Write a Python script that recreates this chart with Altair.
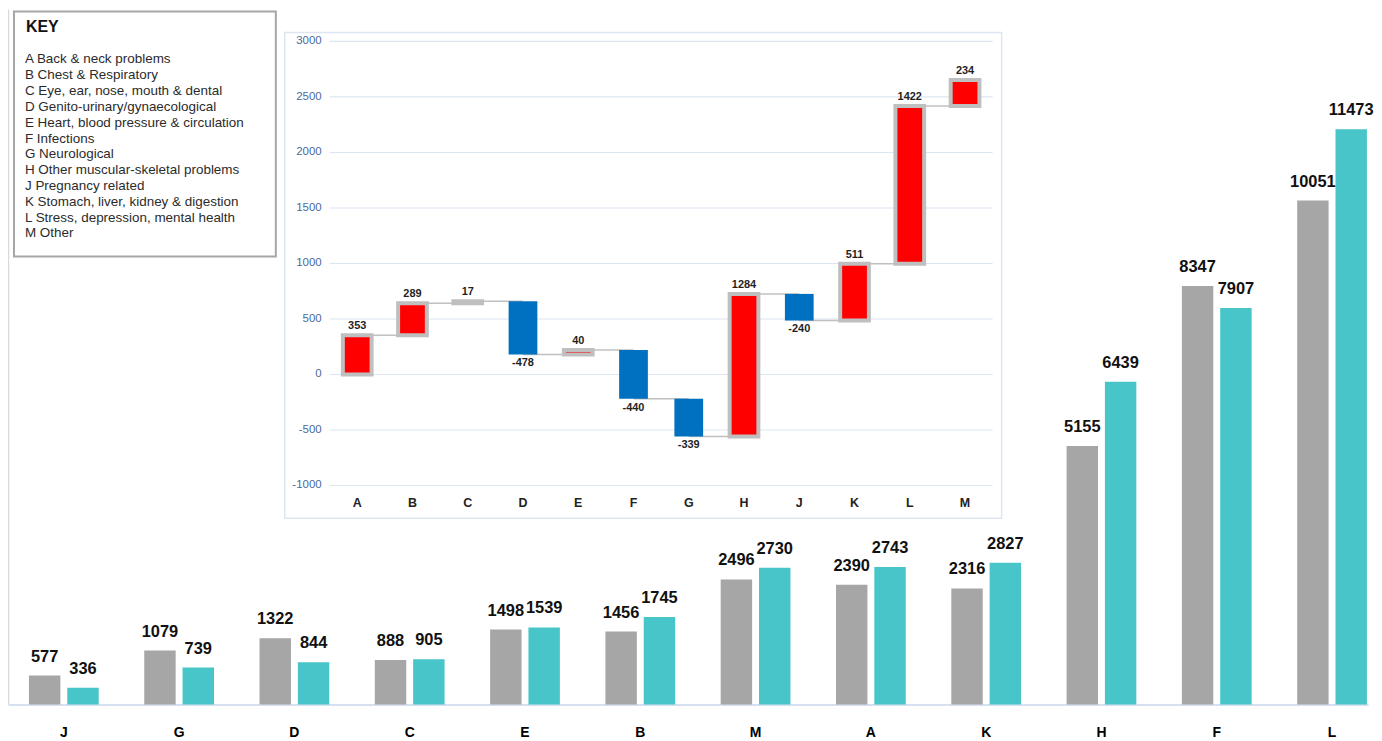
import altair as alt
import pandas as pd

# ---------------- data ----------------
bg_cats = ["J", "G", "D", "C", "E", "B", "M", "A", "K", "H", "F", "L"]
grey_vals = [577, 1079, 1322, 888, 1498, 1456, 2496, 2390, 2316, 5155, 8347, 10051]
teal_vals = [336, 739, 844, 905, 1539, 1745, 2730, 2743, 2827, 6439, 7907, 11473]
series_names = ["Earlier", "Later"]
series_colors = ["#A6A6A6", "#47C5C8"]

wf_cats = ["A", "B", "C", "D", "E", "F", "G", "H", "J", "K", "L", "M"]
wf_changes = [353, 289, 17, -478, 40, -440, -339, 1284, -240, 511, 1422, 234]
inset_ticks = [-1000, -500, 0, 500, 1000, 1500, 2000, 2500, 3000]

key_title = "KEY"
key_lines = [
    "A Back & neck problems",
    "B Chest & Respiratory",
    "C Eye, ear, nose, mouth & dental",
    "D Genito-urinary/gynaecological",
    "E Heart, blood pressure & circulation",
    "F Infections",
    "G Neurological",
    "H Other muscular-skeletal problems",
    "J Pregnancy related",
    "K Stomach, liver, kidney & digestion",
    "L Stress, depression, mental health",
    "M Other",
]

FONT = "Liberation Sans"

# ---------------- tables ----------------
bg_rows = []
for c, g, t in zip(bg_cats, grey_vals, teal_vals):
    bg_rows.append({"cat": c, "series": series_names[0], "value": g, "lab": str(g)})
    bg_rows.append({"cat": c, "series": series_names[1], "value": t, "lab": str(t)})
bg_df = pd.DataFrame(bg_rows)

wf_rows = []
cum = 0
for i, (c, d) in enumerate(zip(wf_cats, wf_changes)):
    start = cum
    end = cum + d
    cum = end
    wf_rows.append({
        "cat": c, "start": start, "end": end, "change": d, "lab": str(d),
        "next": wf_cats[i + 1] if i + 1 < len(wf_cats) else None,
    })
wf_df = pd.DataFrame(wf_rows)
conn_df = wf_df[wf_df["next"].notna()]
tick_df = pd.DataFrame({"tick": inset_ticks, "tlab": [str(t) for t in inset_ticks]})
one = pd.DataFrame({"a": [0]})

# ---------------- background grouped bars ----------------
x_bg = alt.X(
    "cat:N", sort=bg_cats,
    scale=alt.Scale(domain=bg_cats, paddingInner=0.395, paddingOuter=0.0956,
                    align=0.95, round=False),
    axis=alt.Axis(title=None, labelAngle=0, labelFont=FONT, labelFontSize=14,
                  labelFontWeight="bold", labelColor="#000000", ticks=False,
                  domainColor="#D6E0F0", domainWidth=2, labelPadding=21, grid=False),
)
xo_bg = alt.XOffset("series:N", sort=series_names,
                    scale=alt.Scale(domain=series_names, paddingInner=0.18, paddingOuter=0))
y_bg = alt.Y("value:Q", scale=alt.Scale(domain=[0, 13860], nice=False, zero=True), axis=None)
color_bg = alt.Color("series:N", scale=alt.Scale(domain=series_names, range=series_colors),
                     legend=None)

bg_bars = alt.Chart(bg_df).mark_bar().encode(x=x_bg, xOffset=xo_bg, y=y_bg, color=color_bg)
bg_text = alt.Chart(bg_df).mark_text(
    baseline="middle", dy=-19, font=FONT, fontSize=16.5, fontWeight="bold", color="#111111"
).encode(x=x_bg, xOffset=xo_bg, y=y_bg, text="lab:N")
left_rule = alt.Chart(one).mark_rule(color="#D9D9D9", strokeWidth=1.5).encode(
    x=alt.value(0.5), y=alt.value(0), y2=alt.value(698))
bg_layer = alt.layer(bg_bars, bg_text, left_rule)

# ---------------- key box ----------------
key_box = alt.Chart(one).mark_rect(fill="white", stroke="#A6A6A6", strokeWidth=2).encode(
    x=alt.value(6), x2=alt.value(269), y=alt.value(2), y2=alt.value(248))
key_t = alt.Chart(pd.DataFrame({"t": [key_title]})).mark_text(
    align="left", baseline="middle", font=FONT, fontSize=16, fontWeight="bold", color="#111111"
).encode(x=alt.value(18), y=alt.value(17), text="t:N")
key_body = alt.Chart(pd.DataFrame({"t": ["\n".join(key_lines)]})).mark_text(
    align="left", baseline="top", lineBreak="\n", lineHeight=15.9, font=FONT, fontSize=13.5,
    color="#2B2B2B"
).encode(x=alt.value(17), y=alt.value(43), text="t:N")
key_layer = alt.layer(key_box, key_t, key_body)

# ---------------- inset waterfall ----------------
x_sc = alt.Scale(domain=wf_cats, range=[323, 989], paddingInner=0.48, paddingOuter=0.24,
                 round=False)
y_sc = alt.Scale(domain=[-1000, 3000], range=[478, 32], nice=False, zero=False)

frame = alt.Chart(one).mark_rect(fill="white", stroke="#DDE5F3", strokeWidth=1.5).encode(
    x=alt.value(278), x2=alt.value(998), y=alt.value(23), y2=alt.value(511))
grid = alt.Chart(tick_df).mark_rule(color="#DCE6F2", strokeWidth=1.2).encode(
    y=alt.Y("tick:Q", scale=y_sc, axis=None), x=alt.value(323), x2=alt.value(989))
tick_labels = alt.Chart(tick_df).mark_text(
    align="right", baseline="middle", font=FONT, fontSize=11.5, color="#4A6A9E"
).encode(y=alt.Y("tick:Q", scale=y_sc, axis=None), x=alt.value(315), text="tlab:N")
x_labels = alt.Chart(wf_df).mark_text(
    align="center", baseline="middle", font=FONT, fontSize=12.5, fontWeight="bold",
    color="#222222"
).encode(x=alt.X("cat:N", sort=wf_cats, scale=x_sc, axis=None), y=alt.value(496), text="cat:N")
connectors = alt.Chart(conn_df).mark_rule(color="#C0C0C0", strokeWidth=1.5).encode(
    x=alt.X("cat:N", sort=wf_cats, scale=x_sc, axis=None),
    x2="next:N",
    y=alt.Y("end:Q", scale=y_sc, axis=None),
)
pos_bars = alt.Chart(wf_df).transform_filter("datum.change > 0").mark_bar(
    color="#FF0000", stroke="#BFBFBF", strokeWidth=4
).encode(
    x=alt.X("cat:N", sort=wf_cats, scale=x_sc, axis=None),
    y=alt.Y("start:Q", scale=y_sc, axis=None), y2="end:Q",
)
neg_bars = alt.Chart(wf_df).transform_filter("datum.change < 0").mark_bar(
    color="#0070C0"
).encode(
    x=alt.X("cat:N", sort=wf_cats, scale=x_sc, axis=None),
    y=alt.Y("start:Q", scale=y_sc, axis=None), y2="end:Q",
)
pos_labels = alt.Chart(wf_df).transform_filter("datum.change > 0").mark_text(
    baseline="middle", dy=-9, font=FONT, fontSize=11, fontWeight="bold", color="#1F1F1F"
).encode(
    x=alt.X("cat:N", sort=wf_cats, scale=x_sc, axis=None),
    y=alt.Y("end:Q", scale=y_sc, axis=None), text="lab:N",
)
neg_labels = alt.Chart(wf_df).transform_filter("datum.change < 0").mark_text(
    baseline="middle", dy=9, font=FONT, fontSize=11, fontWeight="bold", color="#1F1F1F"
).encode(
    x=alt.X("cat:N", sort=wf_cats, scale=x_sc, axis=None),
    y=alt.Y("end:Q", scale=y_sc, axis=None), text="lab:N",
)
inset_layer = alt.layer(frame, grid, tick_labels, x_labels, connectors,
                        pos_bars, neg_bars, pos_labels, neg_labels)

chart = alt.layer(bg_layer, key_layer, inset_layer).resolve_scale(
    x="independent", y="independent", color="independent"
).properties(
    width=1366, height=698, autosize="none",
    padding={"left": 0, "top": 0, "right": 6, "bottom": 35},
    background="white",
).configure_view(stroke=None)

chart.save("out.html", embed_options={"renderer": "svg", "actions": False})
